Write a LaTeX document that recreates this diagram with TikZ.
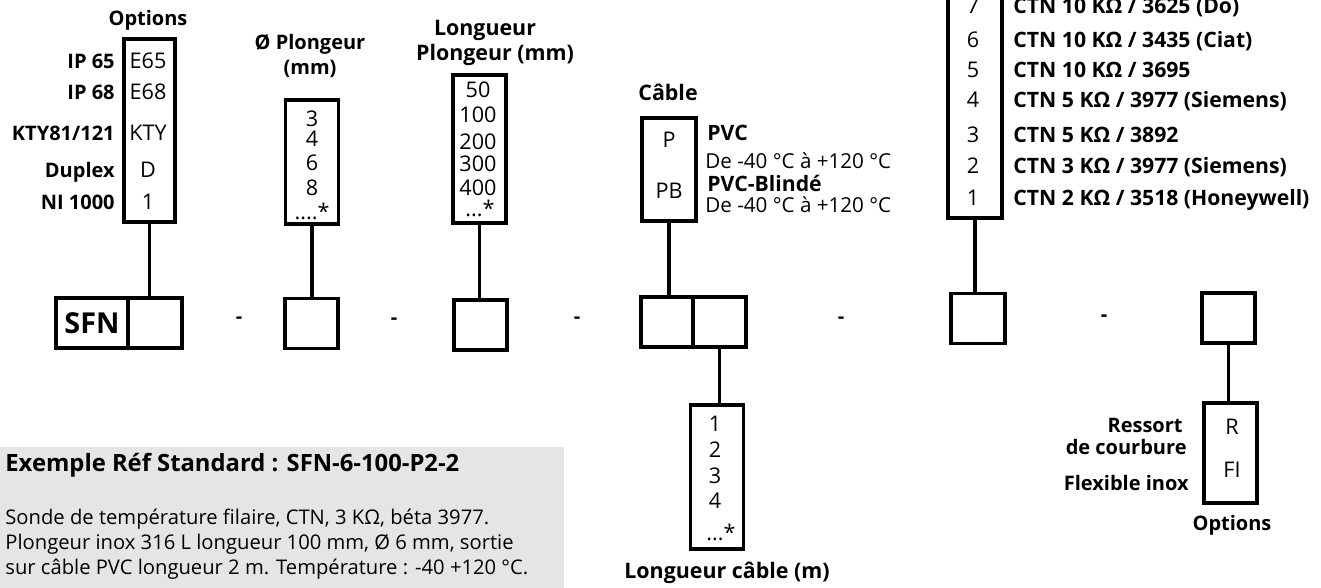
\documentclass[tikz,border=0pt]{standalone}
\usepackage{fontspec}
\setmainfont{Open Sans}
\usetikzlibrary{positioning}
\definecolor{cPanel}{RGB}{229,229,229}
\tikzset{
	cell/.style    ={rectangle, draw=black, line width=1.6pt, inner sep=0pt, minimum width=26.5pt, minimum height=25pt},
	listbox/.style ={rectangle, draw=black, line width=1.6pt, inner sep=0pt, minimum width=26.5pt},
	wire/.style    ={line width=1.6pt},
	item/.style    ={inner sep=0pt, anchor=mid, font=\fontsize{10.8}{12}\selectfont},
	lab/.style     ={inner sep=0pt, anchor=mid east, font=\bfseries\fontsize{10}{11}\selectfont},
	head/.style    ={inner sep=0pt, anchor=mid, font=\bfseries\fontsize{10.7}{12}\selectfont},
	chead/.style   ={inner sep=0pt, anchor=mid, font=\bfseries\fontsize{10}{11}\selectfont},
	ctn/.style     ={inner sep=0pt, anchor=mid west, font=\bfseries\fontsize{10.6}{12}\selectfont},
	note/.style    ={inner sep=0pt, anchor=mid west, font=\fontsize{10.3}{12}\selectfont},
	dashmark/.style={inner sep=0pt, font=\bfseries\fontsize{10}{11}\selectfont},
}

\begin{document}
\begin{tikzpicture}[x=0.5pt, y=-0.5pt]
	\useasboundingbox (0,0) rectangle (1321,588);
	\clip (0,0) rectangle (1321,588);
	% example panel
	\fill[cPanel] (0,447) rectangle (564,588);
	\node[inner sep=0pt, anchor=mid west, font=\bfseries\fontsize{11.9}{13}\selectfont] (extitle) at (5,466) {Exemple Réf Standard : SFN-6-100-P2-2};
	\node[inner sep=0pt, anchor=north west, align=left, font=\fontsize{10.1}{12.5}\selectfont] (extext) at (5,509) {Sonde de température filaire, CTN, 3 KΩ, béta 3977.\\ Plongeur inox 316 L longueur 100 mm, Ø 6 mm, sortie\\ sur câble PVC longueur 2 m. Température : -40 +120 °C.};

	% reference row
	\node[cell, minimum width=36pt] (sfn) at (92,323) {\bfseries\fontsize{14.4}{15}\selectfont SFN};
	\node[cell, minimum width=27pt] (cellA) at (155,323) {};
	\node[dashmark] (dash1) at (239,320) {-};
	\node[cell] (cellB) at (311.5,323.5) {};
	\node[dashmark] (dash2) at (394,321) {-};
	\node[cell] (cellC) at (480.5,325) {};
	\node[dashmark] (dash3) at (577,320) {-};
	\node[cell, minimum width=26pt] (cellD1) at (667,322) {};
	\node[cell] (cellD2) at (719.5,322) {};
	\node[dashmark] (dash4) at (841,320) {-};
	\node[cell, minimum width=27pt] (cellE) at (978,318.5) {};
	\node[dashmark] (dash5) at (1104,318) {-};
	\node[cell] (cellF) at (1228.5,318) {};

	% options
	\node[chead] (opthead) at (148,20) {Options};
	\node[listbox, minimum width=25.5pt, minimum height=91.5pt] (optbox) at (149.5,130.5) {};
	\foreach \code/\name/\y [count=\i] in {E65/IP 65/63, E68/IP 68/94, KTY/{KTY81/121}/135, D/Duplex/172, 1/NI 1000/204}{
		\node[item] (optv\i) at (148,\y) {\code};
		\node[lab] (optl\i) at (115,\y) {\name};
	}
	\draw[wire] (optbox.south) -- (optbox.south |- cellA.north);

	% diametre
	\node[chead, align=center, font=\bfseries\fontsize{10}{12.5}\selectfont] (diahead) at (310,69) {Ø Plongeur\\ (mm)};
	\node[listbox, minimum height=62pt] (diabox) at (312,162) {};
	\foreach \v/\y [count=\i] in {3/121, 4/141, 6/165, 8/190}
		\node[item] (diav\i) at (312,\y) {\v};
	\node[item, anchor=base] (diamore) at (312,220) {....*};
	\draw[wire] (diabox.south) -- (diabox.south |- cellB.north);

	% longueur plongeur
	\node[head] (lenhead1) at (485,30) {Longueur};
	\node[head] (lenhead2) at (495,55) {Plongeur (mm)};
	\node[listbox, minimum height=74pt] (lenbox) at (479.5,149) {};
	\foreach \v/\y [count=\i] in {50/92, 100/117, 200/144, 300/166, 400/190}
		\node[item] (lenv\i) at (478,\y) {\v};
	\node[item, anchor=base] (lenmore) at (480,217) {...*};
	\draw[wire] (lenbox.south) -- (lenbox.south |- cellC.north);

	% cable
	\node[head] (cabhead) at (668,95) {Câble};
	\node[listbox, minimum width=27pt, minimum height=51.5pt] (cabbox) at (669,169.5) {};
	\node[item] (cabP) at (669,142) {P};
	\node[item] (cabPB) at (669,193) {PB};
	\node[ctn] (pvc) at (707,135) {PVC};
	\node[note] (pvcT) at (705,163) {De -40 °C à +120 °C};
	\node[ctn] (pvcb) at (707,186) {PVC-Blindé};
	\node[note] (pvcbT) at (705,207) {De -40 °C à +120 °C};
	\draw[wire] (cabbox.south) -- (cabbox.south |- cellD1.north);

	% sonde CTN
	\node[listbox, minimum width=27pt, minimum height=129pt] (ctnbox) at (975,89) {};
	\foreach \n/\t/\y in {7/{CTN 10 KΩ / 3625 (Do)}/8, 6/{CTN 10 KΩ / 3435 (Ciat)}/42, 5/{CTN 10 KΩ / 3695}/72, 4/{CTN 5 KΩ / 3977 (Siemens)}/102, 3/{CTN 5 KΩ / 3892}/137, 2/{CTN 3 KΩ / 3977 (Siemens)}/168, 1/{CTN 2 KΩ / 3518 (Honeywell)}/200}{
		\node[item] (ctnv\n) at (973,\y) {\n};
		\node[ctn] (ctnl\n) at (1013,\y) {\t};
	}
	\draw[wire] (ctnbox.south) -- (ctnbox.south |- cellE.north);

	% longueur cable
	\node[listbox, minimum height=72pt] (cablen) at (717,477) {};
	\foreach \v/\y [count=\i] in {1/426, 2/452, 3/478, 4/503}
		\node[item] (cablenv\i) at (715,\y) {\v};
	\node[item, anchor=base] (cablenmore) at (721,540) {...*};
	\node[head] (cablenhead) at (727,573) {Longueur câble (m)};
	\draw[wire] (cellD2.south) -- (cellD2.south |- cablen.north);

	% options fin
	\node[listbox, minimum height=50pt] (optbox2) at (1230.5,453) {};
	\node[item] (optR) at (1232,429) {R};
	\node[item] (optFI) at (1232,472) {FI};
	\node[lab] (optRl1) at (1183,427) {Ressort};
	\node[lab] (optRl2) at (1187,449) {de courbure};
	\node[lab] (optFIl) at (1189,485) {Flexible inox};
	\node[chead] (opthead2) at (1232,525) {Options};
	\draw[wire] (cellF.south) -- (cellF.south |- optbox2.north);
\end{tikzpicture}
\end{document}
